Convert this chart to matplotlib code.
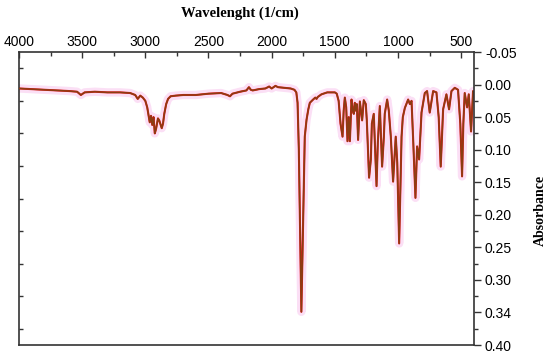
import matplotlib
matplotlib.use('Agg')
import matplotlib.pyplot as plt
from matplotlib.ticker import FixedLocator, NullFormatter

# IR spectrum (wavenumber 1/cm, absorbance)
wavenumber = [
    4000, 3900, 3800, 3700, 3600, 3540, 3510, 3480, 3400, 3300, 3200, 3120,
    3080, 3060, 3040, 3020, 3000, 2985, 2965, 2955, 2945, 2935, 2925, 2915,
    2900, 2890, 2870, 2860, 2850, 2835, 2820, 2800, 2760, 2700, 2600, 2500,
    2400, 2350, 2330, 2310, 2250, 2200, 2180, 2165, 2150, 2100, 2050, 2020,
    2000, 1970, 1950, 1900, 1850, 1820, 1805, 1795, 1785, 1775, 1765, 1755,
    1745, 1738, 1724, 1710, 1698, 1672, 1655, 1645, 1635, 1606, 1560, 1527,
    1500, 1485, 1470, 1455, 1439, 1430, 1421, 1410, 1400, 1390, 1381, 1368,
    1358, 1350, 1342, 1334, 1326, 1316, 1302, 1284, 1271, 1255, 1247, 1229,
    1215, 1207, 1192, 1170, 1160, 1144, 1126, 1112, 1105, 1086, 1073, 1057,
    1039, 1018, 1006, 991, 972, 962, 946, 920, 906, 893, 879, 862, 849, 833,
    814, 788, 770, 749, 722, 696, 678, 662, 643, 617, 596, 577, 551, 525,
    507, 493, 483, 472, 453, 440, 422, 406, 400,
]
absorbance = [
    0.006, 0.007, 0.008, 0.009, 0.010, 0.011, 0.016, 0.012, 0.011, 0.012, 0.012, 0.013,
    0.016, 0.022, 0.017, 0.020, 0.025, 0.035, 0.058, 0.048, 0.062, 0.050, 0.075, 0.068,
    0.052, 0.055, 0.067, 0.060, 0.045, 0.030, 0.022, 0.018, 0.017, 0.016, 0.016, 0.014,
    0.013, 0.016, 0.018, 0.014, 0.011, 0.009, 0.004, 0.008, 0.009, 0.007, 0.006, 0.003,
    0.006, 0.002, 0.004, 0.005, 0.006, 0.008, 0.012, 0.028, 0.100, 0.220, 0.349, 0.250,
    0.150, 0.080, 0.054, 0.038, 0.028, 0.023, 0.020, 0.022, 0.019, 0.015, 0.012, 0.012,
    0.012, 0.014, 0.025, 0.060, 0.080, 0.040, 0.020, 0.035, 0.087, 0.050, 0.087, 0.023,
    0.040, 0.045, 0.028, 0.040, 0.030, 0.085, 0.026, 0.055, 0.024, 0.030, 0.055, 0.143,
    0.115, 0.060, 0.045, 0.156, 0.090, 0.033, 0.126, 0.080, 0.045, 0.023, 0.040, 0.080,
    0.149, 0.080, 0.120, 0.244, 0.080, 0.050, 0.036, 0.023, 0.030, 0.025, 0.090, 0.174, 0.095, 0.115,
    0.043, 0.013, 0.010, 0.043, 0.010, 0.012, 0.050, 0.126, 0.038, 0.015, 0.038, 0.010, 0.005, 0.008,
    0.060, 0.141, 0.060, 0.013, 0.035, 0.015, 0.072, 0.010, 0.012,
]

x_major = [4000, 3500, 3000, 2500, 2000, 1500, 1000, 500]
x_minor = [3750, 3250, 2750, 2250, 1750, 1250, 750]
y_major = [-0.05, 0.00, 0.05, 0.10, 0.15, 0.20, 0.25, 0.30, 0.35, 0.40]
y_labels = ['-0.05', '0.00', '0.05', '0.10', '0.15', '0.20', '0.25', '0.30', '0.34', '0.40']
y_minor = [-0.025, 0.025, 0.075, 0.125, 0.175, 0.225, 0.275, 0.325, 0.375]

sans = 'Liberation Sans'
serif = 'Liberation Serif'
spine_col = '#333333'

fig = plt.figure(figsize=(5.5, 3.57), dpi=100)
ax = fig.add_axes([0.0345, 0.0336, 0.827, 0.8207])

# pink halo, red trace, brown trace on top
ax.plot(wavenumber, absorbance, color='#fbdff5', lw=6, solid_joinstyle='round',
        solid_capstyle='round', zorder=1)
ax.plot(wavenumber, absorbance, color='#e3181c', lw=1.5, zorder=2)
ax.plot(wavenumber, absorbance, color='#8b3d12', lw=1.1, zorder=3)

ax.set_xlim(4000, 400)
ax.set_ylim(0.40, -0.05)

for s in ax.spines.values():
    s.set_color(spine_col)
    s.set_linewidth(1.2)
ax.spines['right'].set_visible(False)

# top wavenumber axis
ax.xaxis.tick_top()
ax.xaxis.set_major_locator(FixedLocator(x_major))
ax.xaxis.set_minor_locator(FixedLocator(x_minor))
ax.tick_params(axis='x', which='major', direction='in', length=4, width=1,
               color=spine_col, pad=2, labelsize=10, bottom=False)
ax.tick_params(axis='x', which='minor', direction='in', length=3, width=1,
               color=spine_col, bottom=False)
for lab in ax.get_xticklabels():
    lab.set_fontname(sans)

# left spine only has short inner ticks
ax.yaxis.set_major_locator(FixedLocator(y_minor))
ax.yaxis.set_major_formatter(NullFormatter())
ax.tick_params(axis='y', which='major', direction='in', length=3, width=1,
               color=spine_col, labelleft=False)

# right absorbance axis
ax2 = ax.twinx()
ax2.set_ylim(0.40, -0.05)
ax2.set_position(ax.get_position())
for k in ['left', 'top', 'bottom']:
    ax2.spines[k].set_visible(False)
ax2.spines['right'].set_color(spine_col)
ax2.spines['right'].set_linewidth(1.2)
ax2.set_yticks(y_major)
ax2.set_yticklabels(y_labels, fontname=sans, fontsize=10)
ax2.yaxis.set_minor_locator(FixedLocator(y_minor))
ax2.tick_params(axis='y', which='major', direction='out', length=5, width=1,
                color=spine_col, pad=3)
ax2.tick_params(axis='y', which='minor', direction='out', length=3, width=1,
                color=spine_col)

fig.text(0.436, 0.964, 'Wavelenght (1/cm)', fontsize=10.5, fontweight='bold',
         fontname=serif, ha='center', va='center')
fig.text(0.982, 0.41, 'Absorbance', fontsize=10, fontweight='bold',
         fontname=serif, rotation=90, ha='center', va='center')

fig.savefig('out.png', dpi=100, facecolor='white')
